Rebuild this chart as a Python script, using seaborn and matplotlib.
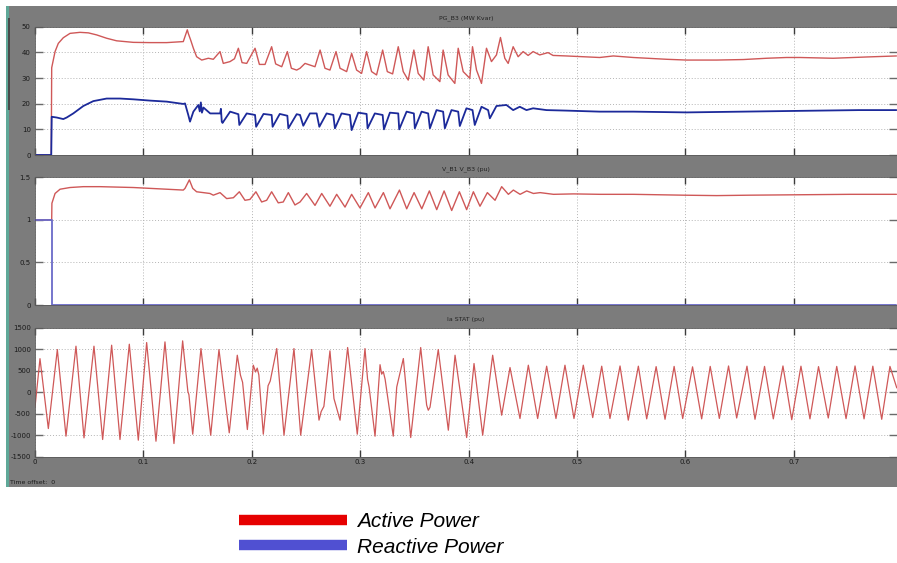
import matplotlib
matplotlib.use('Agg')
import matplotlib.pyplot as plt
import seaborn as sns
from matplotlib.lines import Line2D
from matplotlib.patches import Rectangle

# ---- data (time in ms) ----
# PG_B3: active power (MW)
pg_active_t = [0, 15.0, 15.4, 18.5, 21.5, 26.1, 32.3, 41.5, 49.2, 56.9, 66.1, 75.3, 90.7, 106.1,
               121.5, 136.8, 140.5, 141.4, 143.6, 146.1, 149.1, 153.8, 159.9, 164.5, 170.7, 173.7,
               179.9, 184.0, 187.6, 191.0, 195.3, 203.0, 207.0, 212.2, 218.3, 222.0, 227.6, 232.8,
               236.5, 241.4, 244.5, 249.1, 258.3, 263.0, 267.5, 272.1, 277.7, 281.4, 287.5, 292.1,
               296.7, 301.3, 305.9, 310.5, 315.1, 320.7, 325.0, 329.9, 335.1, 339.7, 344.3, 349.5,
               353.5, 358.7, 362.7, 367.3, 373.5, 376.5, 381.1, 387.3, 390.4, 395.0, 401.1, 403.6,
               407.3, 411.9, 416.5, 421.1, 425.7, 429.4, 433.4, 436.5, 441.1, 445.7, 450.3, 454.9,
               459.5, 465.6, 473.3, 477.9, 490.2, 505.5, 520.9, 533.5, 551.9, 582.7, 601.1, 628.8,
               653.4, 674.9, 693.3, 705.6, 736.3, 767.1, 794.7]
pg_active = [0, 0, 34, 40.3, 43.5, 45.7, 47.4, 47.8, 47.6, 46.8, 45.5, 44.5, 43.9, 43.8,
             43.8, 44.2, 48.8, 47.4, 44.8, 41.6, 38.3, 37.0, 37.7, 37.3, 40.3, 35.7,
             36.4, 37.5, 41.6, 36.0, 35.7, 41.6, 35.3, 35.3, 42.2, 35.5, 34.4, 40.3,
             33.8, 33.1, 33.8, 35.7, 34.4, 40.9, 33.8, 33.1, 40.3, 33.8, 32.5, 39.6,
             33.1, 31.8, 40.3, 32.5, 31.2, 40.9, 32.5, 31.6, 42.2, 32.5, 29.2, 40.9,
             31.8, 29.2, 42.2, 31.2, 28.6, 40.9, 31.2, 27.9, 41.6, 32.5, 29.9, 42.2,
             33.1, 27.9, 41.6, 36.4, 39.0, 45.8, 37.7, 35.7, 42.2, 38.3, 40.3, 38.8,
             40.3, 39.0, 39.9, 38.8, 38.6, 38.3, 38.0, 38.6, 38.0, 37.3, 37.0, 37.0,
             37.2, 37.7, 38.0, 38.0, 37.7, 38.2, 38.6]

# PG_B3: reactive power (Mvar)
pg_reactive_t = [0, 15.0, 15.4, 20.1, 26.1, 29.2, 35.3, 44.6, 53.8, 66.1, 78.4, 90.7, 106.1,
                 121.5, 136.8, 138.4, 141.4, 143.0, 146.1, 150.7, 152.0, 153.0, 154.0, 155.4,
                 161.6, 170.8, 171.5, 172.3, 173.0, 180.0, 187.6, 188.5, 195.3, 203.0, 204.0,
                 210.8, 218.3, 219.2, 225.8, 232.8, 233.7, 241.4, 244.5, 247.5, 253.6, 259.8,
                 262.3, 269.0, 275.2, 276.7, 282.8, 290.5, 292.1, 298.2, 305.9, 306.8, 313.5,
                 320.7, 321.9, 327.4, 335.1, 336.0, 342.8, 349.5, 350.4, 356.6, 362.7, 364.3,
                 370.4, 376.5, 378.1, 384.2, 390.4, 391.9, 398.0, 403.6, 405.7, 411.9, 418.0,
                 419.6, 425.7, 434.9, 441.1, 447.2, 453.4, 459.5, 471.8, 490.2, 520.9, 551.9,
                 601.0, 653.0, 705.0, 760.0, 794.7]
pg_reactive = [0, 0, 14.9, 14.6, 14.0, 14.6, 16.2, 19.1, 21.0, 22.0, 22.0, 21.7, 21.2,
               20.8, 19.9, 20.1, 15.6, 13.0, 16.9, 19.5, 17.0, 20.5, 16.5, 18.5,
               16.2, 16.2, 18.0, 13.0, 12.5, 16.9, 15.9, 11.7, 16.2, 15.6, 11.0,
               16.0, 15.6, 11.0, 16.0, 15.3, 10.4, 15.9, 15.6, 11.4, 16.2, 16.2,
               11.0, 16.2, 15.6, 10.4, 16.2, 15.6, 9.7, 16.5, 16.0, 10.4, 16.2,
               15.6, 10.0, 16.5, 16.2, 10.0, 16.9, 16.2, 10.4, 16.9, 16.2, 10.4,
               17.5, 16.9, 10.4, 17.5, 16.9, 11.3, 18.2, 17.5, 11.7, 18.8, 17.5,
               14.3, 19.1, 19.5, 17.5, 18.8, 17.5, 18.2, 17.5, 17.3, 16.9, 16.9,
               16.6, 16.9, 17.2, 17.5, 17.5]

# V_B1 V_B3 (pu)
v_b1_t = [0, 15.4, 15.6, 18.5, 23.1, 32.3, 44.6, 60.0, 90.7, 106.1, 121.5, 136.8, 138.4,
          142.4, 145.5, 149.1, 155.3, 161.4, 164.5, 170.7, 176.8, 183.0, 188.5, 193.7, 198.3,
          203.8, 209.1, 213.7, 218.3, 224.4, 229.0, 233.7, 239.8, 244.5, 250.6, 258.3, 264.5,
          272.1, 278.3, 286.0, 292.1, 299.8, 307.5, 313.7, 321.4, 327.5, 336.2, 342.9, 349.7,
          356.8, 363.8, 370.6, 377.4, 384.4, 391.5, 398.2, 404.4, 410.5, 417.3, 424.4, 430.5,
          436.7, 441.3, 447.5, 453.6, 459.8, 466.0, 478.3, 496.7, 521.3, 551.9, 598.0, 628.8,
          659.5, 705.6, 751.8, 794.7]
v_b1 = [1.0, 1.0, 1.195, 1.31, 1.36, 1.38, 1.39, 1.39, 1.38, 1.37, 1.36, 1.35, 1.37,
        1.47, 1.37, 1.33, 1.32, 1.31, 1.29, 1.32, 1.25, 1.26, 1.33, 1.23, 1.24,
        1.33, 1.21, 1.23, 1.33, 1.20, 1.21, 1.32, 1.175, 1.21, 1.31, 1.17, 1.31,
        1.16, 1.30, 1.15, 1.30, 1.14, 1.32, 1.14, 1.32, 1.13, 1.35, 1.13, 1.32,
        1.13, 1.34, 1.12, 1.34, 1.11, 1.33, 1.12, 1.33, 1.16, 1.32, 1.23, 1.39,
        1.30, 1.35, 1.30, 1.34, 1.31, 1.32, 1.30, 1.305, 1.30, 1.30, 1.29, 1.285,
        1.29, 1.295, 1.30, 1.30]
v_b3_t = [0, 15.4, 15.4, 794.7]
v_b3 = [1.0, 1.0, 0.0, 0.0]

# Ia STAT
ia_t = [0, 4.6, 12.3, 20.6, 28.6, 37.8, 45.2, 54.4, 62.4, 70.7, 78.4, 87.0, 95.3, 103.0,
        111.6, 119.9, 128.2, 136.2, 141.0, 142.0, 145.5, 153.1, 162.1, 169.7, 179.2, 186.6,
        189.5, 191.5, 195.9, 201.4, 203.5, 205.0, 206.5, 210.6, 215.0, 217.0, 223.0, 229.7,
        238.9, 245.1, 255.2, 262.0, 264.0, 266.5, 272.1, 275.8, 277.5, 281.4, 288.4, 297.3,
        304.4, 306.8, 308.2, 313.7, 318.3, 319.8, 321.3, 323.0, 330.5, 333.7, 339.8, 346.6,
        355.8, 361.3, 362.8, 364.4, 372.0, 381.3, 387.5, 398.2, 405.0, 413.0, 422.2, 430.5,
        438.2, 447.4, 455.1, 463.7, 472.0, 480.6, 488.9, 497.2, 505.8, 514.5, 522.8, 530.4,
        539.7, 547.3, 556.6, 564.3, 573.0, 581.2, 589.6, 597.5, 606.6, 615.0, 622.9, 631.3,
        639.8, 647.3, 656.8, 664.2, 673.0, 681.1, 690.0, 698.1, 706.6, 714.9, 722.8, 731.8,
        739.6, 748.2, 756.5, 764.8, 772.9, 781.1, 788.7, 795.0]
ia = [-350, 780, -845, 992, -1023, 1070, -1062, 1070, -1100, 1093, -1100, 1116, -1116, 1155,
      -1140, 1170, -1194, 1194, 20, -60, -977, 1015, -1000, 992, -945, 860,
      400, 230, -868, 628, 470, 560, 400, -977, 150, 260, 1015, -1000,
      1015, -1000, 992, -650, -450, -330, 961, -150, -300, -651, 1039, -977,
      1015, 300, 120, -1023, 640, 420, 480, 300, -1023, 120, 783, -1054,
      1039, -300, -420, -350, 992, -884, 860, -1054, 667, -1000, 860, -535,
      574, -612, 628, -612, 605, -612, 628, -612, 628, -590, 605, -612,
      610, -650, 605, -620, 595, -630, 600, -612, 590, -620, 600, -610,
      610, -600, 605, -630, 600, -620, 610, -640, 605, -620, 595, -600,
      600, -615, 610, -620, 605, -630, 600, 100]

titles = ['PG_B3 (MW Kvar)', 'V_B1 V_B3 (pu)', 'Ia STAT (pu)']
x_ticks = [0, 0.1, 0.2, 0.3, 0.4, 0.5, 0.6, 0.7]
x_labels = ['0', '0.1', '0.2', '0.3', '0.4', '0.5', '0.6', '0.7']
y_ticks = [[0, 10, 20, 30, 40, 50], [0, 0.5, 1, 1.5], [-1500, -1000, -500, 0, 500, 1000, 1500]]
y_labels = [['0', '10', '20', '30', '40', '50'], ['0', '0.5', '1', '1.5'],
            ['-1500', '-1000', '-500', '0', '500', '1000', '1500']]

sns.set_style('white')
plt.rcParams['font.family'] = ['DejaVu Sans']

W, H = 897, 563
fig = plt.figure(figsize=(W / 100, H / 100), dpi=100)
fig.patch.set_facecolor('white')

# scope window background
fig.add_artist(Rectangle((7 / W, 1 - 487 / H), 890 / W, 481 / H, transform=fig.transFigure,
                         facecolor='#7c7c7c', edgecolor='none', zorder=0))
fig.add_artist(Rectangle((6 / W, 1 - 487 / H), 3 / W, 481 / H, transform=fig.transFigure,
                         facecolor='#5fa898', edgecolor='none', zorder=1))
fig.add_artist(Rectangle((8 / W, 1 - 110 / H), 2 / W, 92 / H, transform=fig.transFigure,
                         facecolor='#4a4a4a', edgecolor='none', zorder=2))

# panel boxes in pixels: (top, bottom)
boxes = [(26.7, 155.0), (177.3, 305.0), (327.7, 456.7)]
axes = []
for top, bot in boxes:
    ax = fig.add_axes([35 / W, 1 - bot / H, (W - 35) / W, (bot - top) / H])
    axes.append(ax)

def to_s(ms):
    return [v / 1000 for v in ms]

red = '#cf5858'
lw_kw = dict(estimator=None, sort=False)

sns.lineplot(x=to_s(pg_active_t), y=pg_active, ax=axes[0], color=red, linewidth=1.0, **lw_kw)
sns.lineplot(x=to_s(pg_reactive_t), y=pg_reactive, ax=axes[0], color='#1c2a9a', linewidth=1.3, **lw_kw)
sns.lineplot(x=to_s(v_b1_t), y=v_b1, ax=axes[1], color=red, linewidth=1.0, **lw_kw)
sns.lineplot(x=to_s(v_b3_t), y=v_b3, ax=axes[1], color='#6a6ac8', linewidth=1.3,
             clip_on=False, **lw_kw)
sns.lineplot(x=to_s(ia_t), y=ia, ax=axes[2], color=red, linewidth=0.9, **lw_kw)

ylims = [(0, 50), (0, 1.5), (-1500, 1500)]
pads = [5, 5, 4.5]
for i, ax in enumerate(axes):
    ax.set_facecolor('white')
    ax.set_xlim(0, (W - 35) / 1084)
    ax.set_ylim(*ylims[i])
    ax.set_xticks(x_ticks)
    ax.set_yticks(y_ticks[i])
    ax.set_yticklabels(y_labels[i])
    if i == 2:
        ax.set_xticklabels(x_labels)
    else:
        ax.set_xticklabels([])
    ax.set_xlabel('')
    ax.set_ylabel('')
    ax.grid(True, color='#b4b4b4', linestyle=(0, (1, 2)), linewidth=0.7)
    ax.tick_params(axis='x', direction='in', length=5, width=1.0, color='#3c3c3c',
                   top=True, bottom=True, labelsize=5, labelcolor='#1a1a1a', pad=2)
    ax.tick_params(axis='y', direction='in', length=6, width=1.0, color='#6a6a6a',
                   left=True, right=True, labelsize=5, labelcolor='#1a1a1a', pad=3)
    for s in ax.spines.values():
        s.set_color('#5a5a5a')
        s.set_linewidth(0.6)
    ax.set_title(titles[i], fontsize=4.5, color='#222222', pad=pads[i])
    legend = ax.get_legend()
    if legend:
        legend.remove()

fig.text(10 / W, 1 - 482 / H, 'Time offset:  0', fontsize=4.5, color='#1a1a1a', va='center')

handles = [Line2D([], [], color='#e60000', linewidth=7.5, solid_capstyle='butt'),
           Line2D([], [], color='#5050d2', linewidth=7.5, solid_capstyle='butt')]
leg = fig.legend(handles, ['Active Power', 'Reactive Power'], loc='upper left',
                 bbox_to_anchor=(239 / W, 1 - 512 / H), frameon=False, borderpad=0,
                 borderaxespad=0, handlelength=5.2, handletextpad=0.45, labelspacing=0.32,
                 prop={'family': 'Liberation Sans', 'style': 'italic', 'size': 15})
for txt in leg.get_texts():
    txt.set_color('black')

fig.savefig('out.png', dpi=100)
